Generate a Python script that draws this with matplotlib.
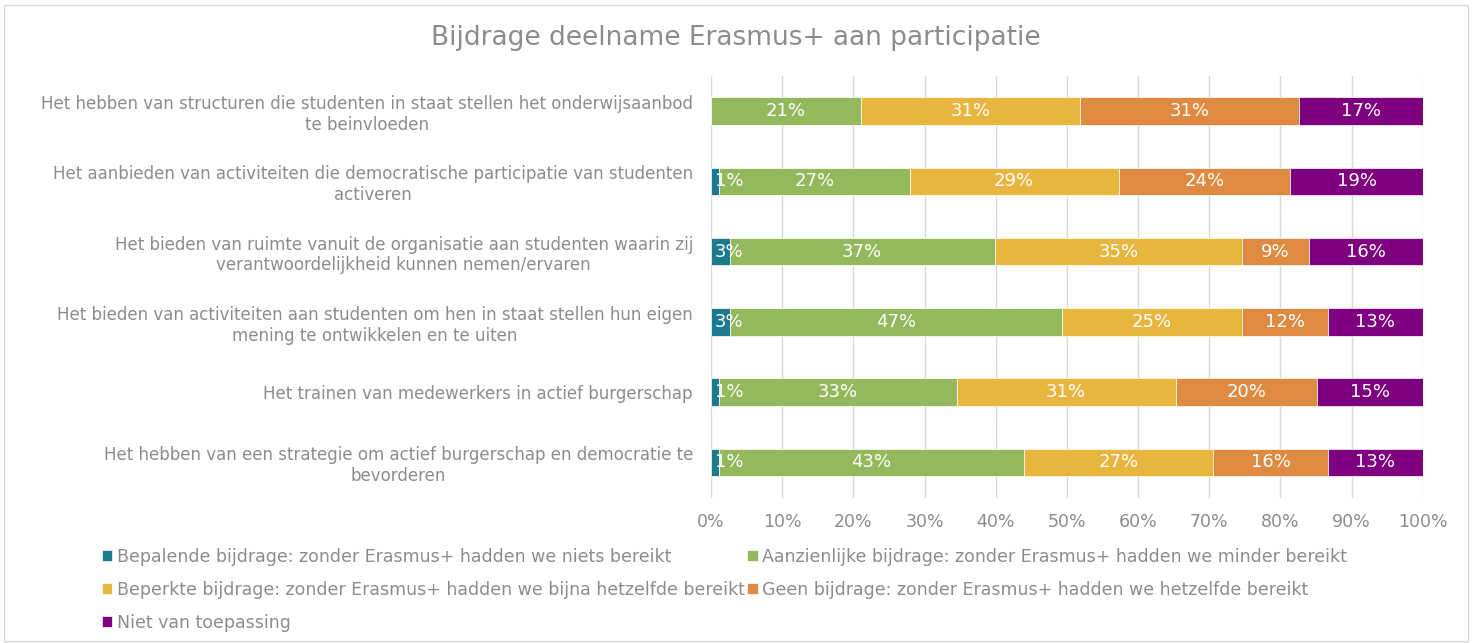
import matplotlib.pyplot as plt
import matplotlib.patches as mpatches
import numpy as np

plt.rcParams['font.family'] = ['DejaVu Sans']

categories = [
    "Het hebben van structuren die studenten in staat stellen het onderwijsaanbod\nte beinvloeden",
    "Het aanbieden van activiteiten die democratische participatie van studenten\nactiveren",
    "Het bieden van ruimte vanuit de organisatie aan studenten waarin zij\nverantwoordelijkheid kunnen nemen/ervaren",
    "Het bieden van activiteiten aan studenten om hen in staat stellen hun eigen\nmening te ontwikkelen en te uiten",
    "Het trainen van medewerkers in actief burgerschap",
    "Het hebben van een strategie om actief burgerschap en democratie te\nbevorderen",
]

series_names = [
    "Bepalende bijdrage: zonder Erasmus+ hadden we niets bereikt",
    "Aanzienlijke bijdrage: zonder Erasmus+ hadden we minder bereikt",
    "Beperkte bijdrage: zonder Erasmus+ hadden we bijna hetzelfde bereikt",
    "Geen bijdrage: zonder Erasmus+ hadden we hetzelfde bereikt",
    "Niet van toepassing",
]

bepalende = [0.0, 1.1, 2.6, 2.6, 1.1, 1.1]
aanzienlijke = [21.1, 26.8, 37.3, 46.7, 33.4, 42.9]
beperkte = [30.7, 29.4, 34.7, 25.3, 30.8, 26.6]
geen = [30.8, 24.1, 9.4, 12.1, 19.9, 16.1]
niet = [17.4, 18.6, 16.0, 13.3, 14.8, 13.3]

colors = ["#1d7a8c", "#93b95c", "#e8b53f", "#de8b41", "#7f007f"]
text_gray = "#8c8c8c"

fig = plt.figure(figsize=(14.72, 6.43), dpi=100)
ax = fig.add_axes([711 / 1472, 1 - 497.5 / 643, (1422.7 - 711) / 1472, 421.5 / 643])

y = np.arange(len(categories))
left = np.zeros(len(categories))
handles = []
for name, vals, col in zip(series_names,
                           [bepalende, aanzienlijke, beperkte, geen, niet],
                           colors):
    vals = np.array(vals)
    bars = ax.barh(y, vals, left=left, height=0.39, color=col,
                   edgecolor="white", linewidth=0.5, label=name, zorder=3)
    handles.append(bars)
    for yi, l, v in zip(y, left, vals):
        if v <= 0:
            continue
        # labels too wide for a thin first segment are pushed inside the plot
        if l + v / 2 < 2.2:
            ax.text(0.5, yi, f"{v:.0f}%", ha="left", va="center",
                    color="white", fontsize=13, zorder=5)
        else:
            ax.text(l + v / 2, yi, f"{v:.0f}%", ha="center", va="center",
                    color="white", fontsize=13, zorder=5)
    left += vals

ax.set_xlim(0, 100)
ax.set_ylim(len(categories) - 0.5, -0.5)
ax.set_yticks(y)
ax.set_yticklabels(categories, multialignment="center")
ax.set_xticks(np.arange(0, 101, 10))
ax.set_xticklabels([f"{t}%" for t in range(0, 101, 10)])
ax.tick_params(axis="y", length=0, pad=13, labelsize=12, labelcolor=text_gray)
ax.tick_params(axis="x", length=0, pad=11, labelsize=12.5, labelcolor=text_gray)
ax.grid(axis="x", color="#d9d9d9", linewidth=1, zorder=0)
for s in ax.spines.values():
    s.set_visible(False)

fig.suptitle("Bijdrage deelname Erasmus+ aan participatie", x=0.5, y=1 - 38 / 643,
             va="center", fontsize=19, color=text_gray)

order = [0, 2, 4, 1, 3]
leg = fig.legend([handles[i] for i in order], [series_names[i] for i in order],
                 loc="upper left", bbox_to_anchor=(102 / 1472, 1 - 548 / 643),
                 ncol=2, frameon=False, fontsize=12.5, handlelength=0.6,
                 handleheight=0.6, handletextpad=0.25, columnspacing=0.15,
                 labelspacing=0.85, borderaxespad=0, borderpad=0)
for t in leg.get_texts():
    t.set_color(text_gray)

fig.patches.append(mpatches.Rectangle((4 / 1472, 2 / 643), 1464 / 1472, 636 / 643,
                                      transform=fig.transFigure, fill=False,
                                      edgecolor="#d9d9d9", linewidth=1))

fig.savefig("out.png", dpi=100)
